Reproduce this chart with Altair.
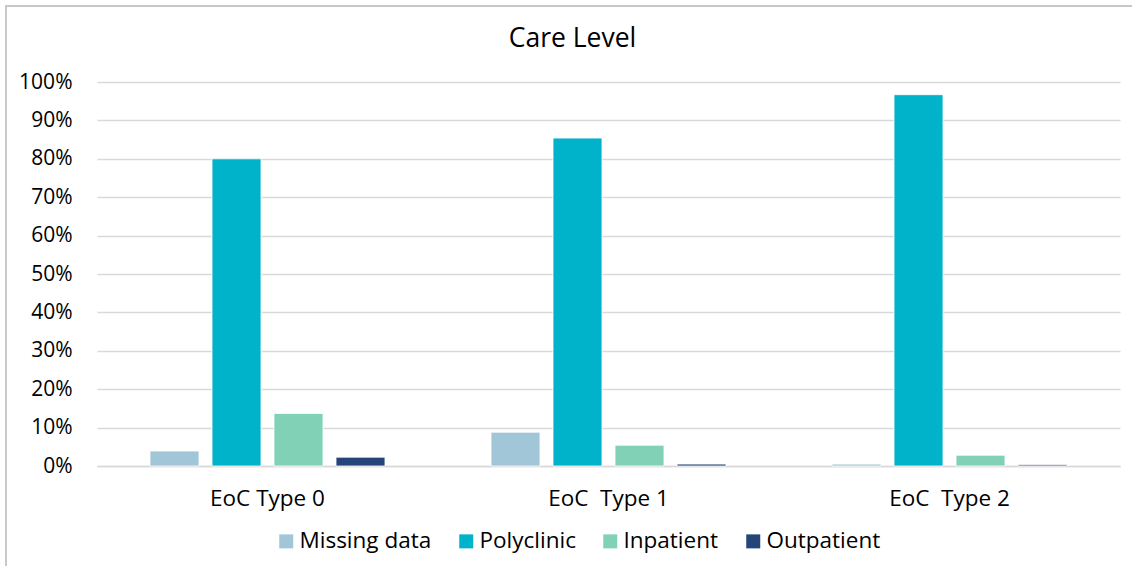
import altair as alt
import pandas as pd

# Episode-of-care types and care-level shares (%)
groups = ["EoC Type 0", "EoC\u00a0 Type 1", "EoC\u00a0 Type 2"]
levels = ["Missing data", "Polyclinic", "Inpatient", "Outpatient"]
missing_data = [3.9, 8.8, 0.5]
polyclinic = [80.0, 85.4, 96.7]
inpatient = [13.7, 5.4, 2.8]
outpatient = [2.3, 0.5, 0.3]
colors = ["#A0C6D8", "#00B3CA", "#80D1B6", "#24447A"]

rows = []
for series_name, values in zip(levels, [missing_data, polyclinic, inpatient, outpatient]):
    for g, v in zip(groups, values):
        rows.append({"group": g, "level": series_name, "share": v / 100})
df = pd.DataFrame(rows)

FONT = "Open Sans"
W, H = 1023, 384

bars = alt.Chart(df).mark_bar(stroke="white", strokeWidth=0.8).encode(
    x=alt.X("group:N", sort=groups, title=None,
            scale=alt.Scale(paddingInner=0, paddingOuter=0),
            axis=alt.Axis(labelAngle=0, labelFontSize=22.5, labelFont=FONT, labelColor="#000000",
                          labelPadding=21, ticks=False, domainColor="#D9D9D9", domainWidth=1.3)),
    xOffset=alt.XOffset("level:N", sort=levels,
                        scale=alt.Scale(paddingInner=0.21, paddingOuter=0.855)),
    y=alt.Y("share:Q", title=None,
            scale=alt.Scale(domain=[0, 1], nice=False),
            axis=alt.Axis(format=".0%", values=[i / 10 for i in range(11)], labelFontSize=21,
                          labelFont=FONT, labelColor="#000000", labelPadding=25, ticks=False,
                          domain=False, gridColor="#D9D9D9", gridWidth=1.3)),
    color=alt.Color("level:N", sort=levels,
                    scale=alt.Scale(domain=levels, range=colors),
                    legend=alt.Legend(title=None, orient="none", direction="horizontal",
                                      legendX=178, legendY=448, symbolType="square",
                                      symbolSize=196, symbolStrokeWidth=0, labelFontSize=22.5,
                                      labelFont=FONT, labelColor="#000000", labelOffset=2,
                                      columnPadding=23)),
)

frame = alt.Chart(df).mark_rect(fill=None, stroke="#C8C8C8", strokeWidth=1.2).encode(
    x=alt.value(-91), x2=alt.value(1060), y=alt.value(-76), y2=alt.value(520)
)

chart = alt.layer(frame, bars).properties(
    width=W, height=H,
    title=alt.TitleParams("Care Level", fontSize=26.5, font=FONT, fontWeight="normal",
                          color="#000000", anchor="middle", dx=-36, dy=47, offset=0),
    autosize=alt.AutoSizeParams(type="none"),
    padding={"left": 97, "top": 82, "right": 12, "bottom": 100},
).configure_view(stroke=None)

chart.save("out.html", embed_options={"renderer": "svg", "actions": False})
